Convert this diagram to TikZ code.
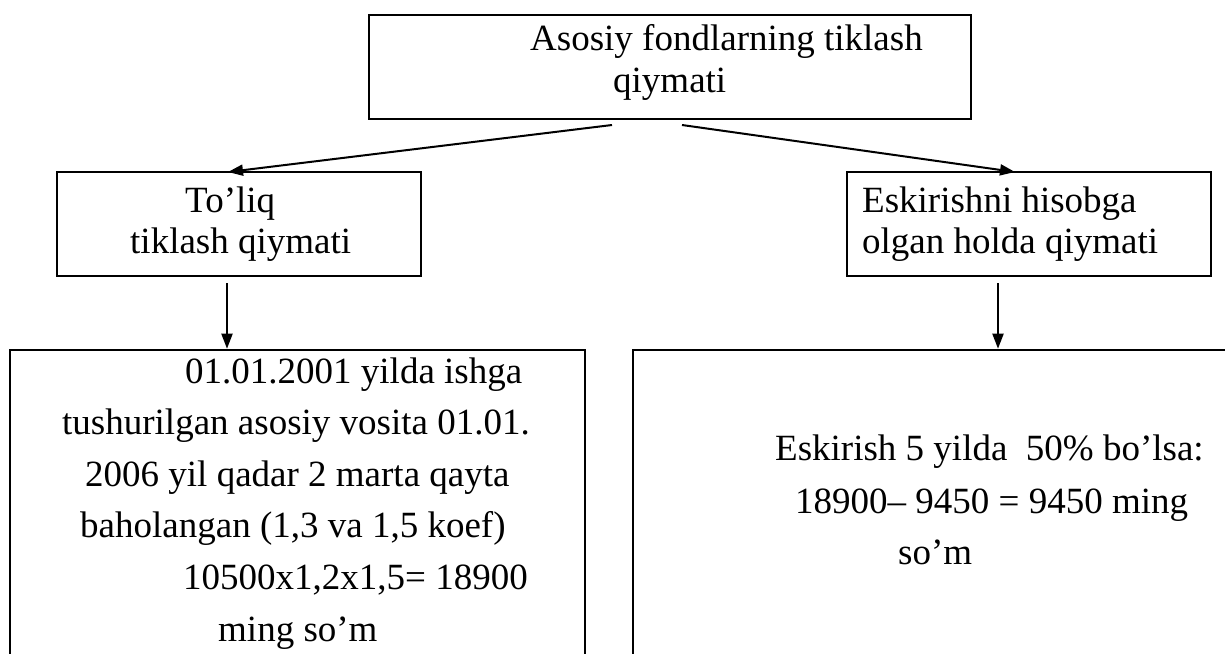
\documentclass[tikz,border=0pt]{standalone}
\usepackage{fontspec}
\setmainfont{Liberation Serif}
\usetikzlibrary{arrows.meta}
\tikzset{
  boxnode/.style={draw=black,line width=2.6pt,rectangle,inner sep=0pt},
  ln/.style={anchor=base west,inner sep=0pt,font=\fontsize{37}{44}\selectfont},
  conn/.style={line width=2pt,-{Triangle[length=15pt,width=11pt]}}
}
\begin{document}
\begin{tikzpicture}[x=1pt,y=-1pt]
\useasboundingbox (0,0) rectangle (1225,653);
\clip (0,0) rectangle (1225,653);
% boxes
\node[boxnode,minimum width=602pt,minimum height=104pt] (top) at (670,67) {};
\node[boxnode,minimum width=364pt,minimum height=104pt] (midL) at (239,224) {};
\node[boxnode,minimum width=364pt,minimum height=104pt] (midR) at (1029,224) {};
\node[boxnode,minimum width=575pt,minimum height=350pt] (botL) at (297.5,525) {};
\node[boxnode,minimum width=667pt,minimum height=350pt] (botR) at (966.5,525) {};
% text
\node[ln] (t1) at (530,50) {Asosiy fondlarning tiklash};
\node[ln] (t2) at (613,92) {qiymati};
\node[ln] (ml1) at (185,212) {To’liq};
\node[ln] (ml2) at (130,253) {tiklash qiymati};
\node[ln] (mr1) at (862,212) {Eskirishni hisobga};
\node[ln] (mr2) at (862,253) {olgan holda qiymati};
\node[ln] (bl1) at (185,383) {01.01.2001 yilda ishga};
\node[ln] (bl2) at (62,434.6) {tushurilgan asosiy vosita 01.01.};
\node[ln] (bl3) at (85,486.2) {2006 yil qadar 2 marta qayta};
\node[ln] (bl4) at (80,537.8) {baholangan (1,3 va 1,5 koef)};
\node[ln] (bl5) at (183,589.4) {10500x1,2x1,5= 18900};
\node[ln] (bl6) at (218,641) {ming so’m};
\node[ln] (br1) at (775,460) {Eskirish 5 yilda\ \ 50\% bo’lsa:};
\node[ln] (br2) at (795,513) {18900– 9450 = 9450 ming};
\node[ln] (br3) at (898,564) {so’m};
% connectors
\coordinate (s1) at (612,125);
\coordinate (e1) at (228,172);
\coordinate (s2) at (682,125);
\coordinate (e2) at (1015,172);
\coordinate (d1) at (227,283);
\coordinate (d2) at (998,283);
\draw[conn] (s1) -- (e1);
\draw[conn] (s2) -- (e2);
\draw[conn] (d1) -- (d1 |- botL.north);
\draw[conn] (d2) -- (d2 |- botR.north);
\end{tikzpicture}
\end{document}
